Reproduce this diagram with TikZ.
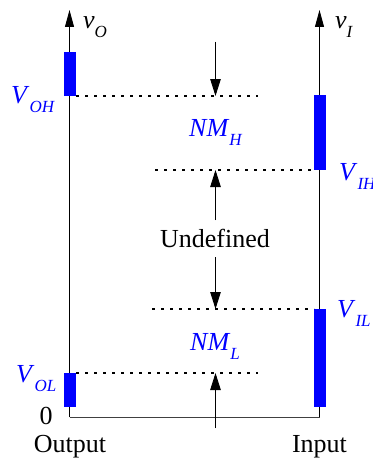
\documentclass[tikz,border=0pt]{standalone}
\usepackage{fontspec}
\setmainfont{Liberation Serif}
\usetikzlibrary{arrows.meta}
\newcommand{\mysub}[1]{\raisebox{-9pt}{\fontsize{17}{17}\selectfont\itshape #1}}
\tikzset{
  axisline/.style={line width=0.9pt, -{Triangle[length=17pt,width=9pt]}},
  plainline/.style={line width=0.9pt, draw=black!75},
  marg/.style={line width=0.9pt, -{Triangle[length=17pt,width=10.5pt]}, draw=black, fill=black!85},
  dotline/.style={line width=1.3pt, dash pattern=on 2.5pt off 6.5pt},
  lvl/.style={fill=blue},
  lab/.style={inner sep=0pt, anchor=base west, font=\fontsize{26}{30}\selectfont},
  blab/.style={lab, text=blue},
  clab/.style={inner sep=0pt, anchor=base, font=\fontsize{26}{30}\selectfont},
}
\begin{document}
\begin{tikzpicture}[x=1pt,y=-1pt]
\useasboundingbox (0,0) rectangle (372,460);
% axes
\coordinate (Lb) at (69.5,417);
\coordinate (Lt) at (69.5,10);
\coordinate (Rb) at (319.5,417);
\coordinate (Rt) at (319.5,10);
\draw[axisline] (Lb) -- (Lt);
\draw[axisline] (Rb) -- (Rt);
\draw[plainline] (Lb) -- (Rb);
% level bars
\fill[lvl] (64,52) rectangle (76,96);
\fill[lvl] (64,373) rectangle (76,407);
\fill[lvl] (314,95) rectangle (326,170);
\fill[lvl] (314,309) rectangle (326,407);
% dotted levels
\coordinate (oh1) at (76,96);   \coordinate (oh2) at (258,96);
\coordinate (ih1) at (155,170); \coordinate (ih2) at (314,170);
\coordinate (il1) at (152,309); \coordinate (il2) at (314,309);
\coordinate (ol1) at (76,373);  \coordinate (ol2) at (258,373);
\draw[dotline] (oh1) -- (oh2);
\draw[dotline] (ih1) -- (ih2);
\draw[dotline] (il1) -- (il2);
\draw[dotline] (ol1) -- (ol2);
% margin arrows
\coordinate (a1s) at (215.5,42);  \coordinate (a1e) at (215.5,96);
\coordinate (a2s) at (215.5,220); \coordinate (a2e) at (215.5,170);
\coordinate (a3s) at (215.5,257); \coordinate (a3e) at (215.5,309);
\coordinate (a4s) at (215.5,428); \coordinate (a4e) at (215.5,373);
\draw[marg] (a1s) -- (a1e);
\draw[marg] (a2s) -- (a2e);
\draw[marg] (a3s) -- (a3e);
\draw[marg] (a4s) -- (a4e);
% labels
\node[lab] (vo) at (83,29) {\textit{v}\mysub{O}};
\node[lab] (vi) at (335,29) {\textit{v}\mysub{I}};
\node[blab] (voh) at (11,103) {\textit{V}\mysub{OH}};
\node[blab] (nmh) at (189,136) {\textit{NM}\mysub{H}};
\node[blab] (vih) at (339,180) {\textit{V}\mysub{IH}};
\node[clab] (undef) at (215,247) {Undefined};
\node[blab] (vil) at (337,317) {\textit{V}\mysub{IL}};
\node[blab] (nml) at (190,350) {\textit{NM}\mysub{L}};
\node[blab] (vol) at (16,382) {\textit{V}\mysub{OL}};
\node[clab] (zero) at (46,424) {0};
\node[clab] (out) at (70,452) {Output};
\node[clab] (inp) at (319.5,452) {Input};
\end{tikzpicture}
\end{document}
